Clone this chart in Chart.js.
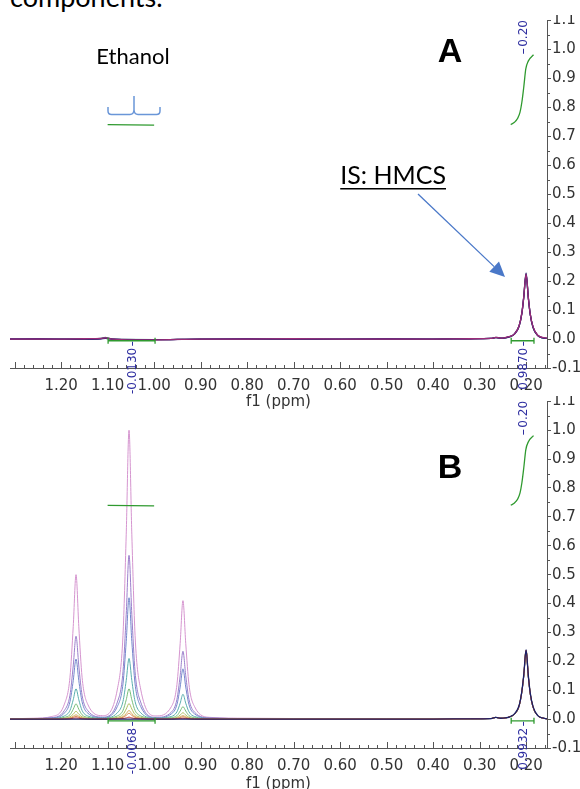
<!DOCTYPE html>
<html>
<head>
<meta charset="utf-8">
<script src="https://cdn.jsdelivr.net/npm/chart.js@4.4.0/dist/chart.umd.min.js"></script>
<style>
  body { margin: 0; background: #fff; width: 580px; height: 789px; overflow: hidden; position: relative; }
  #header { position: absolute; left: 10px; top: -18px; font-family: Lato, sans-serif; font-size: 27px; line-height: 30px; color: #000; white-space: nowrap; }
  canvas { position: absolute; left: 0; }
  #chartA { top: 15px; }
  #chartB { top: 396px; }
</style>
</head>
<body>
<div id="header">components.</div>
<canvas id="chartA" width="580" height="400"></canvas>
<canvas id="chartB" width="580" height="400"></canvas>
<script>
// Axis ticks
const xTicks = [1.2, 1.1, 1.0, 0.9, 0.8, 0.7, 0.6, 0.5, 0.4, 0.3, 0.2];
const yTicks = [-0.1, 0, 0.1, 0.2, 0.3, 0.4, 0.5, 0.6, 0.7, 0.8, 0.9, 1.0, 1.1];
const xMin = 0.155, xMax = 1.31;

// Panel A spectra (ppm grid + traces)
const ppmA = [1.31, 1.25, 1.20, 1.15, 1.115, 1.105, 1.098, 1.09, 1.07, 1.00, 0.90, 0.80, 0.70, 0.60, 0.50, 0.40, 0.32,
  0.275, 0.265, 0.255, 0.245, 0.235, 0.225, 0.215, 0.209, 0.205, 0.200, 0.195, 0.191, 0.185, 0.175, 0.165, 0.155];
const traceA1 = [0,0,0,0,0.001,0.002,0.001,0,-0.002,-0.002,0,0,0,0,0,0,0.001,0.002,0.006,0.003,0.004,0.008,0.018,0.045,0.09,0.145,0.228,0.14,0.085,0.04,0.012,0.004,0.002];
const traceA2 = [0,0.001,0,0,0.001,0.003,0.002,0,-0.001,-0.002,0,0.001,0,0,0.001,0,0.001,0.002,0.005,0.003,0.004,0.008,0.017,0.044,0.088,0.143,0.222,0.138,0.084,0.041,0.013,0.005,0.002];
const traceA3 = [0,0,0,0.001,0.002,0.004,0.002,0,-0.002,-0.003,0,0,0.001,0,0,0,0.001,0.002,0.006,0.003,0.005,0.009,0.018,0.046,0.09,0.146,0.225,0.141,0.086,0.042,0.013,0.006,0.003];
const traceA4 = [0,0,0,0,0.002,0.006,0.003,0,-0.001,-0.002,0,0,0,0,0,0,0.001,0.002,0.005,0.002,0.004,0.008,0.017,0.045,0.09,0.145,0.224,0.14,0.085,0.04,0.012,0.004,0.002];

// Panel B spectra (ppm grid + concentration series)
const ppmB = [1.31, 1.26, 1.22,
  1.193, 1.181, 1.174, 1.168, 1.162, 1.155, 1.143, 1.111,
  1.079, 1.067, 1.060, 1.054, 1.048, 1.041, 1.029, 0.996,
  0.963, 0.951, 0.944, 0.938, 0.932, 0.925, 0.913,
  0.88, 0.80, 0.70, 0.60, 0.50, 0.40, 0.32, 0.275, 0.265, 0.255, 0.245,
  0.235, 0.225, 0.215, 0.209, 0.205, 0.200, 0.195, 0.191, 0.185, 0.175, 0.165, 0.155];
const traceB1 = [0.001,0.003,0.009, 0.052,0.145,0.32,0.50,0.32,0.145,0.052, 0.012, 0.104,0.29,0.64,1.0,0.64,0.29,0.104, 0.011, 0.043,0.119,0.262,0.41,0.262,0.119,0.043, 0.006,0.003,0.002,0.001,0.001,0.001,0.001, 0.002,0.006,0.003,0.004, 0.008,0.017,0.044,0.092,0.145,0.228,0.14,0.085,0.04,0.012,0.004,0.001];
const traceB2 = [0.001,0.002,0.005, 0.030,0.083,0.184,0.287,0.184,0.083,0.030, 0.007, 0.059,0.164,0.363,0.567,0.363,0.164,0.059, 0.006, 0.024,0.068,0.150,0.235,0.150,0.068,0.024, 0.004,0.002,0.001,0.001,0.001,0.001,0.001, 0.002,0.006,0.003,0.004, 0.008,0.017,0.045,0.094,0.148,0.232,0.143,0.087,0.041,0.012,0.004,0.001];
const traceB3 = [0.001,0.002,0.004, 0.021,0.060,0.133,0.208,0.133,0.060,0.021, 0.005, 0.044,0.122,0.269,0.42,0.269,0.122,0.044, 0.004, 0.018,0.050,0.111,0.174,0.111,0.050,0.018, 0.003,0.002,0.001,0.001,0.001,0.001,0.001, 0.002,0.006,0.003,0.004, 0.008,0.017,0.045,0.095,0.149,0.234,0.144,0.087,0.041,0.012,0.004,0.001];
const traceB4 = [0,0.001,0.002, 0.011,0.030,0.067,0.105,0.067,0.030,0.011, 0.003, 0.022,0.061,0.134,0.21,0.134,0.061,0.022, 0.003, 0.009,0.025,0.055,0.086,0.055,0.025,0.009, 0.002,0.001,0.001,0,0.001,0,0.001, 0.002,0.006,0.003,0.004, 0.008,0.017,0.045,0.095,0.15,0.235,0.145,0.088,0.042,0.012,0.004,0.001];
const traceB5 = [0,0.001,0.001, 0.006,0.015,0.034,0.053,0.034,0.015,0.006, 0.002, 0.011,0.030,0.067,0.105,0.067,0.030,0.011, 0.002, 0.005,0.012,0.028,0.043,0.028,0.012,0.005, 0.001,0.001,0,0,0,0.001,0.001, 0.002,0.006,0.003,0.004, 0.008,0.017,0.046,0.096,0.15,0.236,0.145,0.088,0.042,0.012,0.004,0.001];
const traceB6 = [0,0,0.001, 0.003,0.008,0.017,0.027,0.017,0.008,0.003, 0.001, 0.006,0.016,0.035,0.054,0.035,0.016,0.006, 0.001, 0.002,0.006,0.014,0.022,0.014,0.006,0.002, 0.001,0,0,0,0,0,0.001, 0.002,0.006,0.003,0.004, 0.008,0.017,0.046,0.096,0.151,0.236,0.146,0.088,0.042,0.012,0.004,0.001];
const traceB7 = [0,0,0.001, 0.002,0.004,0.010,0.015,0.010,0.004,0.002, 0.001, 0.003,0.009,0.019,0.030,0.019,0.009,0.003, 0.001, 0.001,0.003,0.008,0.012,0.008,0.003,0.001, 0,0,0,0,0,0,0.001, 0.002,0.006,0.003,0.004, 0.008,0.017,0.046,0.096,0.151,0.237,0.146,0.088,0.042,0.012,0.004,0.001];
const traceB8 = [0,0,0, 0.001,0.003,0.006,0.010,0.006,0.003,0.001, 0, 0.002,0.006,0.013,0.020,0.013,0.006,0.002, 0, 0.001,0.002,0.005,0.008,0.005,0.002,0.001, 0,0,0,0,0,0,0.001, 0.002,0.006,0.003,0.004, 0.008,0.017,0.046,0.096,0.151,0.237,0.146,0.088,0.042,0.012,0.004,0.001];
const traceB9 = [0,0,0, 0,0.001,0.003,0.004,0.003,0.001,0, 0, 0.001,0.002,0.004,0.007,0.004,0.002,0.001, 0, 0,0.001,0.002,0.003,0.002,0.001,0, 0,0,0,0,0,0,0.001, 0.002,0.006,0.003,0.004, 0.008,0.018,0.046,0.097,0.152,0.238,0.147,0.089,0.042,0.012,0.004,0.001];
const traceB10 = [0,0,0, 0,0,0,0,0,0,0, 0, 0,0,0,0,0,0,0, 0, 0,0,0,0,0,0,0, 0,0,0,0,0,0,0.001, 0.002,0.006,0.003,0.004, 0.008,0.018,0.047,0.098,0.153,0.24,0.148,0.09,0.043,0.012,0.004,0.001];

// Integrals
const ethIntX = [1.10, 1.00];
const ethIntY = [0.74, 0.738];
const isIntX = [0.233, 0.225, 0.218, 0.213, 0.209, 0.205, 0.2006, 0.195, 0.184];
const isIntY = [0.740, 0.748, 0.762, 0.783, 0.818, 0.869, 0.932, 0.960, 0.981];
const ethBarX = [1.099, 0.998];
const isBarX = [0.232, 0.183];
const barY = -0.006;
const intLabelsA = ['-0.0130', '0.9870'];
const intLabelsB = ['-0.0068', '0.9932'];
const peakLabel = '0.20';

function pts(xs, ys) {
    return xs.map((x, i) => ({ x: x, y: ys[i] }));
}

function trace(xs, ys, color, width) {
    return {
        data: pts(xs, ys),
        borderColor: color,
        borderWidth: width || 1,
        pointRadius: 0,
        cubicInterpolationMode: 'monotone',
        fill: false
    };
}

function greenLine(xs, ys, ticks) {
    return {
        data: pts(xs, ys),
        borderColor: '#2f9a2f',
        borderWidth: 1.3,
        pointRadius: ticks ? 3 : 0,
        pointStyle: 'line',
        rotation: 90,
        pointBorderColor: '#2f9a2f',
        pointBorderWidth: 1.3,
        cubicInterpolationMode: 'monotone',
        fill: false
    };
}

function vText(ctx, text, x, y, extendDown) {
    ctx.save();
    ctx.translate(x, y);
    ctx.rotate(-Math.PI / 2);
    ctx.textAlign = extendDown ? 'right' : 'left';
    ctx.textBaseline = 'middle';
    ctx.fillText(text, 0, 0);
    ctx.restore();
}

function drawArrow(ctx, x1, y1, x2, y2) {
    const a = Math.atan2(y2 - y1, x2 - x1), L = 15, W = 7;
    const bx = x2 - L * Math.cos(a), by = y2 - L * Math.sin(a);
    ctx.strokeStyle = '#4a78c8';
    ctx.fillStyle = '#4a78c8';
    ctx.lineWidth = 1.3;
    ctx.beginPath();
    ctx.moveTo(x1, y1);
    ctx.lineTo(bx, by);
    ctx.stroke();
    ctx.beginPath();
    ctx.moveTo(x2, y2);
    ctx.lineTo(bx - W * Math.sin(a), by + W * Math.cos(a));
    ctx.lineTo(bx + W * Math.sin(a), by - W * Math.cos(a));
    ctx.closePath();
    ctx.fill();
}

// integral value labels under the bars and the peak label above the integral curve
// (drawn in canvas coordinates, straight from the scales)
function drawIntegralLabels(ctx, xs, ys, labels) {
    ctx.save();
    ctx.font = '12px "DejaVu Sans", sans-serif';
    ctx.fillStyle = '#2e2ea0';
    ctx.strokeStyle = '#2e2ea0';
    ctx.lineWidth = 1;
    const by = ys.getPixelForValue(barY);
    [ethBarX, isBarX].forEach((bar, i) => {
        const x = Math.round(xs.getPixelForValue((bar[0] + bar[1]) / 2)) + 0.5;
        ctx.beginPath();
        ctx.moveTo(x, by + 1);
        ctx.lineTo(x, by + 5);
        ctx.stroke();
        vText(ctx, labels[i], x, by + 7, true);
    });
    const px = Math.round(xs.getPixelForValue(0.20)) - 2.5;
    const py = ys.getPixelForValue(isIntY[isIntY.length - 1]);
    ctx.beginPath();
    ctx.moveTo(px, py - 1);
    ctx.lineTo(px, py - 6);
    ctx.stroke();
    vText(ctx, peakLabel, px, py - 8, false);
    ctx.restore();
}

const decorPlugin = {
    id: 'decor',
    afterDraw(chart, args, opts) {
        const ctx = chart.ctx;
        const xs = chart.scales.x, ys = chart.scales.y;
        const area = chart.chartArea;
        ctx.save();
        ctx.strokeStyle = '#555';
        ctx.lineWidth = 1;
        // x ticks pointing up into the plot
        for (let i = 8; i <= 65; i++) {
            const x = Math.round(xs.getPixelForValue(i * 0.02)) + 0.5;
            const len = i % 5 === 0 ? 6 : 3;
            ctx.beginPath();
            ctx.moveTo(x, area.bottom);
            ctx.lineTo(x, area.bottom - len);
            ctx.stroke();
        }
        // y minor ticks
        for (let i = -1; i <= 21; i += 2) {
            const y = Math.round(ys.getPixelForValue(i * 0.05)) + 0.5;
            ctx.beginPath();
            ctx.moveTo(area.right, y);
            ctx.lineTo(area.right + 3, y);
            ctx.stroke();
        }
        drawIntegralLabels(ctx, xs, ys, opts.labels);
        // free annotations are given in page coordinates
        ctx.translate(0, -opts.top);
        opts.draw(ctx);
        ctx.restore();
    }
};

function makeOptions(top, padTop, axisHeight, titlePad, labels, draw) {
    return {
        responsive: false,
        animation: false,
        devicePixelRatio: 1,
        layout: { padding: { left: 10, right: 0, top: padTop, bottom: 0 } },
        plugins: {
            legend: { display: false },
            tooltip: { enabled: false },
            decor: { top: top, labels: labels, draw: draw }
        },
        scales: {
            x: {
                type: 'linear',
                min: xMin,
                max: xMax,
                reverse: true,
                afterBuildTicks: s => { s.ticks = xTicks.map(v => ({ value: v })); },
                afterFit: s => { s.height = axisHeight; s.paddingLeft = 0; s.paddingRight = 0; },
                grid: { drawOnChartArea: false, drawTicks: false },
                border: { display: true, color: '#555', width: 1 },
                ticks: {
                    padding: 9,
                    color: '#333',
                    font: { family: 'DejaVu Sans', size: 15 },
                    maxRotation: 0,
                    autoSkip: false,
                    callback: v => v.toFixed(2)
                },
                title: {
                    display: true,
                    text: 'f1 (ppm)',
                    color: '#333',
                    font: { family: 'DejaVu Sans', size: 15 },
                    padding: { top: 0, bottom: titlePad }
                }
            },
            y: {
                type: 'linear',
                position: 'right',
                min: -0.1,
                max: 1.1,
                afterBuildTicks: s => { s.ticks = yTicks.map(v => ({ value: v })); },
                afterFit: s => { s.width = 33; s.paddingTop = 0; s.paddingBottom = 0; },
                grid: { drawOnChartArea: false, tickLength: 4, color: '#555' },
                border: { display: true, color: '#555', width: 1 },
                ticks: {
                    padding: 1,
                    color: '#333',
                    font: { family: 'DejaVu Sans', size: 15 },
                    autoSkip: false,
                    callback: v => v.toFixed(1)
                }
            }
        }
    };
}

// Panel A
new Chart(document.getElementById('chartA'), {
    type: 'line',
    data: {
        datasets: [
            greenLine(isIntX, isIntY, false),
            greenLine(ethIntX, ethIntY, false),
            greenLine(ethBarX, [barY, barY], true),
            greenLine(isBarX, [barY, barY], true),
            trace(ppmA, traceA3, '#9a2c78', 1.3),
            trace(ppmA, traceA1, '#1d2270', 1.3),
            trace(ppmA, traceA2, '#6a2a8a', 1.3),
            trace(ppmA, traceA4, '#3a8a7a', 1.3)
        ]
    },
    plugins: [decorPlugin],
    options: makeOptions(15, 2.5, 47, 4, intLabelsA, ctx => {
        ctx.fillStyle = '#000';
        ctx.textAlign = 'center';
        ctx.textBaseline = 'alphabetic';
        ctx.font = '22px Lato';
        ctx.fillText('Ethanol', 133, 64);
        ctx.font = 'bold 34px "Liberation Sans"';
        ctx.fillText('A', 450, 62);
        // IS label with underline
        ctx.font = '25px Lato';
        ctx.textAlign = 'left';
        const w = ctx.measureText('IS: HMCS').width;
        ctx.fillText('IS: HMCS', 446 - w, 184);
        ctx.fillRect(446 - w, 188, w, 1.5);
        drawArrow(ctx, 418, 194, 505, 277);
        // bracket over the ethanol region
        ctx.strokeStyle = '#6a96d8';
        ctx.lineWidth = 1.5;
        ctx.beginPath();
        ctx.moveTo(108, 107);
        ctx.lineTo(108, 111);
        ctx.quadraticCurveTo(108, 114.5, 111.5, 114.5);
        ctx.lineTo(130, 114.5);
        ctx.quadraticCurveTo(133.5, 114.5, 134, 110);
        ctx.lineTo(134, 96);
        ctx.moveTo(134, 110);
        ctx.quadraticCurveTo(134.5, 114.5, 138, 114.5);
        ctx.lineTo(156.5, 114.5);
        ctx.quadraticCurveTo(160, 114.5, 160, 111);
        ctx.lineTo(160, 107);
        ctx.stroke();
    })
});

// Panel B
new Chart(document.getElementById('chartB'), {
    type: 'line',
    data: {
        datasets: [
            greenLine(isIntX, isIntY, false),
            greenLine(ethIntX, ethIntY, false),
            greenLine(ethBarX, [barY, barY], true),
            greenLine(isBarX, [barY, barY], true),
            trace(ppmB, traceB10, '#1b2168', 1.3),
            trace(ppmB, traceB9, '#c23b3b'),
            trace(ppmB, traceB8, '#d7864f'),
            trace(ppmB, traceB7, '#d3ad5e'),
            trace(ppmB, traceB6, '#aebd5c'),
            trace(ppmB, traceB5, '#78bd78'),
            trace(ppmB, traceB4, '#5aaeae'),
            trace(ppmB, traceB3, '#7488cc'),
            trace(ppmB, traceB2, '#9b7fcb'),
            trace(ppmB, traceB1, '#d595cf')
        ]
    },
    plugins: [decorPlugin],
    options: makeOptions(396, 0.7, 48, 3, intLabelsB, ctx => {
        ctx.fillStyle = '#000';
        ctx.textAlign = 'center';
        ctx.textBaseline = 'alphabetic';
        ctx.font = 'bold 34px "Liberation Sans"';
        ctx.fillText('B', 450, 478);
    })
});
</script>
</body>
</html>
